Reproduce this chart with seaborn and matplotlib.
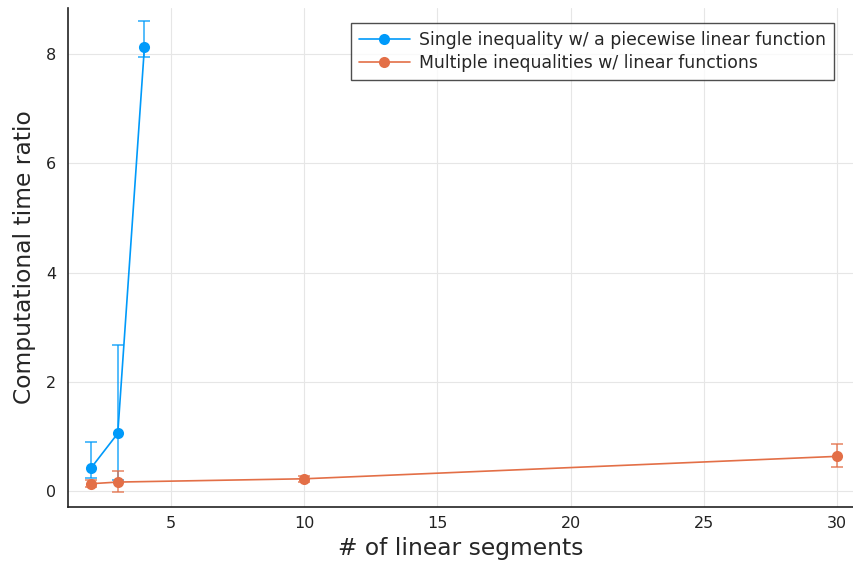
import numpy as np
import pandas as pd
import matplotlib
matplotlib.use("Agg")
import matplotlib.pyplot as plt
import seaborn as sns

# Number of linear segments and measured time ratios
single_x = [2, 3, 4]
single_y = [0.43, 1.06, 8.12]
single_err_lo = [0.19, 0.86, 0.18]
single_err_hi = [0.47, 1.61, 0.49]

multi_x = [2, 3, 10, 30]
multi_y = [0.14, 0.17, 0.23, 0.64]
multi_err_lo = [0.06, 0.19, 0.05, 0.19]
multi_err_hi = [0.06, 0.21, 0.05, 0.22]

labels = ["Single inequality w/ a piecewise linear function",
          "Multiple inequalities w/ linear functions"]
colors = ["#009AFA", "#E36F47"]

x_ticks = [5, 10, 15, 20, 25, 30]
y_ticks = [0, 2, 4, 6, 8]

df = pd.concat([
    pd.DataFrame({"segments": single_x, "ratio": single_y, "method": labels[0]}),
    pd.DataFrame({"segments": multi_x, "ratio": multi_y, "method": labels[1]}),
], ignore_index=True)

sns.set_style("white")
plt.rcParams["font.family"] = ["DejaVu Sans"]

fig = plt.figure(figsize=(8.54, 5.68), dpi=100)
ax = fig.add_axes([0.0796, 0.107, 0.919, 0.879])

ax.grid(True, color="#e6e6e6", linewidth=0.8)
ax.set_axisbelow(True)

# error bars first so the markers sit on top
for xs, ys, lo, hi, c in [(single_x, single_y, single_err_lo, single_err_hi, colors[0]),
                          (multi_x, multi_y, multi_err_lo, multi_err_hi, colors[1])]:
    ax.errorbar(xs, ys, yerr=[lo, hi], fmt="none", ecolor=c, elinewidth=1.1,
                capsize=4, capthick=1.1, alpha=0.85, zorder=2)

sns.lineplot(data=df, x="segments", y="ratio", hue="method", palette=colors,
             marker="o", markersize=8, markeredgewidth=0, linewidth=1.2,
             ax=ax, zorder=3, sort=False)

ax.set_xlim(1.13, 30.6)
ax.set_ylim(-0.29, 8.84)
ax.set_xticks(x_ticks)
ax.set_yticks(y_ticks)
ax.tick_params(direction="in", length=5, width=1, labelsize=11.5, colors="#222222")
ax.tick_params(axis="x", pad=6.5)
ax.tick_params(axis="y", pad=8.5)
for s in ["top", "right"]:
    ax.spines[s].set_visible(False)
for s in ["left", "bottom"]:
    ax.spines[s].set_color("#222222")
    ax.spines[s].set_linewidth(1.2)

ax.set_xlabel("# of linear segments", fontsize=16.8, labelpad=4)
ax.set_ylabel("Computational time ratio", fontsize=16.8, labelpad=7)

leg = ax.legend(loc="upper right", bbox_to_anchor=(0.9755, 0.97), fontsize=12.4,
                frameon=True, fancybox=False, edgecolor="#222222",
                borderpad=0.45, handlelength=3.0, labelspacing=0.32,
                handletextpad=0.5, borderaxespad=0)
leg.get_frame().set_linewidth(1.0)

fig.savefig("out.png", dpi=100)
